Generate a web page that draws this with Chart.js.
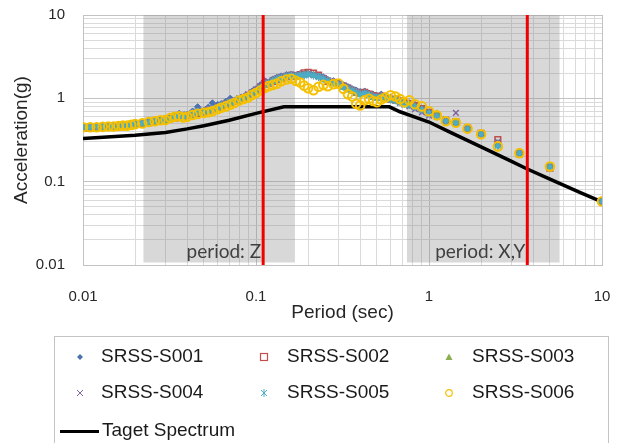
<!DOCTYPE html>
<html>
<head>
<meta charset="utf-8">
<script src="https://cdn.jsdelivr.net/npm/chart.js@4/dist/chart.umd.min.js"></script>
<style>
    html, body { margin: 0; padding: 0; background: #fff; overflow: hidden; }
    #wrap { position: relative; width: 619px; height: 443px; }
    #spectrum { position: absolute; left: 0; top: 0; }
    #legend {
        position: absolute; left: 54px; top: 336px; width: 555px; height: 130px;
        border: 1px solid #c4c4c4; box-sizing: border-box;
        font-family: 'Liberation Sans', Arial, sans-serif; font-size: 19px; color: #1a1a1a;
    }
    .item { position: absolute; white-space: nowrap; }
    .item svg { position: absolute; }
    .item span { position: absolute; line-height: 22px; }
</style>
</head>
<body>
<div id="wrap">
    <canvas id="spectrum" width="619" height="443"></canvas>
    <div id="legend"></div>
</div>
<script>
// --- Periods (sec) shared by the six SRSS spectra ---
const periods = [
    0.010, 0.011, 0.012, 0.013, 0.014, 0.015, 0.016, 0.017, 0.018, 0.019,
    0.020, 0.022, 0.024, 0.026, 0.028, 0.030, 0.032, 0.034, 0.036, 0.038,
    0.040, 0.043, 0.046, 0.050, 0.053, 0.056, 0.060, 0.063, 0.067, 0.071,
    0.075, 0.080, 0.085, 0.090, 0.095, 0.100, 0.106, 0.112, 0.118, 0.125,
    0.132, 0.140, 0.150, 0.160, 0.170, 0.180, 0.190, 0.200, 0.215, 0.230,
    0.245, 0.260, 0.280, 0.300, 0.320, 0.340, 0.360, 0.380, 0.400, 0.425,
    0.450, 0.475, 0.500, 0.530, 0.560, 0.600, 0.640, 0.680, 0.720, 0.770,
    0.830, 0.910, 1.000, 1.110, 1.250, 1.430, 1.670, 2.000, 2.500, 3.330,
    5.000, 10.00
];

// --- SRSS acceleration (g) ---
const srss001 = [
    0.45, 0.45, 0.46, 0.46, 0.46, 0.47, 0.47, 0.48, 0.48, 0.49,
    0.50, 0.52, 0.53, 0.55, 0.56, 0.57, 0.60, 0.62, 0.66, 0.63,
    0.64, 0.70, 0.79, 0.72, 0.78, 0.88, 0.84, 0.86, 0.92, 1.00,
    0.94, 0.98, 1.05, 1.10, 1.22, 1.30, 1.45, 1.62, 1.55, 1.70,
    1.78, 1.85, 1.92, 1.95, 1.90, 1.98, 1.94, 2.00, 1.92, 1.85,
    1.80, 1.68, 1.62, 1.55, 1.45, 1.38, 1.30, 1.25, 1.20, 1.22,
    1.15, 1.12, 1.08, 1.12, 1.05, 1.02, 1.00, 0.95, 0.92, 0.88,
    0.84, 0.76, 0.68, 0.60, 0.52, 0.50, 0.43, 0.37, 0.27, 0.22,
    0.15, 0.058
];
const srss002 = [
    0.44, 0.44, 0.45, 0.45, 0.45, 0.46, 0.46, 0.47, 0.47, 0.48,
    0.49, 0.50, 0.51, 0.53, 0.54, 0.55, 0.57, 0.58, 0.60, 0.61,
    0.62, 0.64, 0.66, 0.69, 0.72, 0.73, 0.78, 0.80, 0.85, 0.88,
    0.92, 0.96, 1.02, 1.08, 1.15, 1.22, 1.35, 1.48, 1.52, 1.60,
    1.68, 1.75, 1.82, 1.88, 1.85, 1.92, 2.02, 2.05, 2.00, 1.90,
    1.72, 1.60, 1.55, 1.48, 1.40, 1.32, 1.25, 1.18, 1.15, 1.18,
    1.12, 1.08, 1.05, 1.06, 1.00, 0.98, 0.96, 0.93, 0.90, 0.86,
    0.82, 0.75, 0.68, 0.62, 0.54, 0.52, 0.44, 0.38, 0.32, 0.215,
    0.145, 0.058
];
const srss003 = [
    0.44, 0.44, 0.44, 0.45, 0.45, 0.45, 0.46, 0.46, 0.47, 0.47,
    0.48, 0.49, 0.51, 0.52, 0.53, 0.54, 0.56, 0.57, 0.59, 0.60,
    0.61, 0.63, 0.65, 0.68, 0.70, 0.72, 0.76, 0.79, 0.83, 0.87,
    0.90, 0.95, 1.00, 1.06, 1.12, 1.20, 1.30, 1.42, 1.50, 1.58,
    1.65, 1.72, 1.80, 1.85, 1.80, 1.86, 1.90, 1.95, 1.88, 1.80,
    1.70, 1.58, 1.50, 1.42, 1.35, 1.28, 1.22, 1.15, 1.10, 1.12,
    1.08, 1.02, 1.00, 1.03, 0.98, 0.95, 0.92, 0.90, 0.86, 0.82,
    0.78, 0.72, 0.66, 0.66, 0.55, 0.52, 0.44, 0.375, 0.29, 0.22,
    0.15, 0.058
];
const srss004 = [
    0.45, 0.45, 0.45, 0.46, 0.46, 0.47, 0.47, 0.48, 0.48, 0.49,
    0.50, 0.51, 0.53, 0.54, 0.56, 0.57, 0.59, 0.61, 0.63, 0.62,
    0.64, 0.67, 0.70, 0.71, 0.74, 0.76, 0.80, 0.84, 0.88, 0.93,
    0.95, 1.00, 1.04, 1.12, 1.18, 1.28, 1.40, 1.55, 1.60, 1.66,
    1.74, 1.82, 1.88, 1.92, 1.88, 1.94, 1.92, 1.98, 1.90, 1.84,
    1.76, 1.64, 1.56, 1.50, 1.42, 1.35, 1.26, 1.20, 1.14, 1.16,
    1.10, 1.06, 1.02, 1.04, 0.99, 0.96, 0.94, 0.88, 0.84, 0.80,
    0.74, 0.68, 0.62, 0.61, 0.56, 0.67, 0.44, 0.38, 0.30, 0.225,
    0.155, 0.058
];
const srss005 = [
    0.45, 0.45, 0.46, 0.46, 0.46, 0.47, 0.47, 0.48, 0.48, 0.49,
    0.50, 0.51, 0.52, 0.54, 0.55, 0.56, 0.58, 0.60, 0.62, 0.61,
    0.62, 0.66, 0.69, 0.69, 0.72, 0.74, 0.78, 0.82, 0.86, 0.90,
    0.92, 0.97, 1.02, 1.07, 1.14, 1.22, 1.34, 1.48, 1.52, 1.62,
    1.70, 1.76, 1.84, 1.88, 1.84, 1.90, 1.88, 1.94, 1.88, 1.80,
    1.72, 1.62, 1.54, 1.46, 1.38, 1.30, 1.24, 1.18, 1.12, 1.15,
    1.10, 1.05, 1.02, 1.05, 1.00, 0.97, 0.95, 0.90, 0.86, 0.83,
    0.79, 0.73, 0.66, 0.60, 0.53, 0.50, 0.43, 0.37, 0.27, 0.22,
    0.15, 0.058
];
const srss006 = [
    0.45, 0.45, 0.45, 0.455, 0.46, 0.46, 0.465, 0.47, 0.47, 0.48,
    0.49, 0.50, 0.52, 0.53, 0.545, 0.55, 0.58, 0.60, 0.61, 0.59,
    0.60, 0.63, 0.65, 0.67, 0.68, 0.70, 0.74, 0.77, 0.80, 0.84,
    0.88, 0.94, 0.98, 1.02, 1.10, 1.16, 1.24, 1.33, 1.40, 1.45,
    1.50, 1.60, 1.68, 1.72, 1.62, 1.55, 1.42, 1.32, 1.25, 1.38,
    1.45, 1.40, 1.48, 1.50, 1.30, 1.12, 1.05, 0.86, 0.82, 0.95,
    0.99, 0.93, 0.90, 0.97, 1.02, 1.09, 1.05, 0.98, 0.90, 0.95,
    0.85, 0.80, 0.70, 0.625, 0.53, 0.51, 0.433, 0.37, 0.265, 0.22,
    0.152, 0.058
];

// --- Target spectrum ---
const targetPeriods = [0.01, 0.02, 0.03, 0.04, 0.05, 0.07, 0.1, 0.145, 0.59, 0.68, 0.8, 1.0, 1.33, 2.0, 3.0, 3.67, 5.0, 7.5, 10];
const targetAccel   = [0.33, 0.36, 0.39, 0.43, 0.47, 0.545, 0.66, 0.79, 0.79, 0.69, 0.61, 0.52, 0.39, 0.262, 0.175, 0.143, 0.107, 0.074, 0.057];

// --- Period bands and their marker lines ---
const bandLabels = ['period: Z', 'period: X,Y'];
const bandStart  = [0.0223, 0.745];
const bandEnd    = [0.168, 5.7];
const bandLine   = [0.11, 3.7];
const bandTop    = 10;
const bandBottom = 0.0107;

// --- Axis ticks (log grid 1..9 per decade) ---
const decades = [0.01, 0.1, 1];
const steps = [1, 2, 3, 4, 5, 6, 7, 8, 9];
const tickText = ['0.01', '0.1', '1', '10'];

const seriesNames = ['SRSS-S001', 'SRSS-S002', 'SRSS-S003', 'SRSS-S004', 'SRSS-S005', 'SRSS-S006'];
const seriesValues = [srss001, srss002, srss003, srss004, srss005, srss006];
const seriesColors = ['#4a72b0', '#c0504d', '#8cae4f', '#8064a2', '#4bacc6', '#f5c000'];

const gridValues = [];
decades.forEach(d => steps.forEach(s => gridValues.push(d * s)));
gridValues.push(10);

const FONT = "'Liberation Sans', Arial, sans-serif";
Chart.defaults.font.family = FONT;
Chart.defaults.color = '#262626';

function toPoints(xs, ys) {
    return xs.map((x, i) => ({ x: x, y: ys[i] }));
}

// marker look for each SRSS series
const markerStyles = [
    { pointStyle: 'rectRot', pointRadius: 3.2, pointBorderWidth: 1, fill: true },
    { pointStyle: 'rect', pointRadius: 4, pointBorderWidth: 1.6, fill: false },
    { pointStyle: 'triangle', pointRadius: 3.6, pointBorderWidth: 1, fill: true },
    { pointStyle: 'crossRot', pointRadius: 4, pointBorderWidth: 1.5, fill: false },
    { pointStyle: 'star', pointRadius: 4, pointBorderWidth: 1.4, fill: false },
    { pointStyle: 'circle', pointRadius: 4.3, pointBorderWidth: 2, fill: false }
];

const datasets = [];

bandStart.forEach((s, i) => {
    datasets.push({
        label: bandLabels[i],
        data: toPoints([s, bandEnd[i]], [bandTop, bandTop]),
        borderWidth: 0,
        pointRadius: 0,
        backgroundColor: 'rgba(140,140,140,0.34)',
        fill: { value: bandBottom },
        order: 20
    });
});

datasets.push({
    label: 'Taget Spectrum',
    data: toPoints(targetPeriods, targetAccel),
    borderColor: '#000',
    borderWidth: 3.5,
    pointRadius: 0,
    tension: 0,
    order: 10
});

seriesNames.forEach((name, i) => {
    const m = markerStyles[i];
    datasets.push({
        label: name,
        data: toPoints(periods, seriesValues[i]),
        showLine: false,
        pointStyle: m.pointStyle,
        pointRadius: m.pointRadius,
        pointBorderWidth: m.pointBorderWidth,
        pointBorderColor: seriesColors[i],
        pointBackgroundColor: m.fill ? seriesColors[i] : 'rgba(0,0,0,0)',
        order: 9 - i
    });
});

bandLine.forEach((p, i) => {
    datasets.push({
        label: 'line' + i,
        data: toPoints([p, p], [0.01, 10]),
        borderColor: '#f20000',
        borderWidth: 3,
        pointRadius: 0,
        order: 1
    });
});

// writes the band captions against each red line
const bandTextPlugin = {
    id: 'bandText',
    afterDatasetsDraw(chart) {
        const { ctx, scales: { x, y } } = chart;
        ctx.save();
        ctx.font = "19px Lato, 'Open Sans', sans-serif";
        ctx.fillStyle = '#404040';
        ctx.textAlign = 'right';
        ctx.textBaseline = 'alphabetic';
        bandLabels.forEach((txt, i) => {
            ctx.fillText(txt, x.getPixelForValue(bandLine[i]) - 2, y.bottom - 7);
        });
        ctx.restore();
    }
};

// tick padding should not leak into the chart area margins
function clearPadding(scale) {
    scale.paddingTop = 0;
    scale.paddingBottom = 0;
    scale.paddingLeft = 0;
    scale.paddingRight = 0;
}

function logAxis(title, extra) {
    return Object.assign({
        type: 'logarithmic',
        min: 0.01,
        max: 10,
        afterBuildTicks: scale => { scale.ticks = gridValues.map(v => ({ value: v })); },
        ticks: {
            autoSkip: false,
            maxRotation: 0,
            font: { size: 15 },
            color: '#262626',
            callback: (v, idx) => (idx % 9 === 0 ? tickText[idx / 9] : '')
        },
        grid: {
            drawTicks: false,
            lineWidth: 1,
            color: c => (c.index % 9 === 0 ? '#c2c2c2' : '#dadada')
        },
        border: { display: true, color: '#c2c2c2' },
        title: { display: true, text: title, font: { size: 19 }, color: '#262626' }
    }, extra);
}

const xAxis = logAxis('Period (sec)', {});
xAxis.ticks.padding = 23;
xAxis.title.padding = { top: 0, bottom: 0 };
xAxis.afterFit = scale => { scale.height = 59.4; clearPadding(scale); };

const yAxis = logAxis('Acceleration(g)', {});
yAxis.ticks.padding = 18;
yAxis.title.padding = { top: 10, bottom: 0 };
yAxis.afterFit = scale => { scale.width = 83; clearPadding(scale); };

new Chart(document.getElementById('spectrum').getContext('2d'), {
    type: 'line',
    data: { datasets: datasets },
    options: {
        responsive: false,
        animation: false,
        layout: { padding: { top: 15, right: 17, bottom: 118.6, left: 0 } },
        plugins: { legend: { display: false }, tooltip: { enabled: false } },
        scales: { x: xAxis, y: yAxis }
    },
    plugins: [bandTextPlugin]
});

// --- Legend box (3 columns, target line on its own row) ---
const legendEl = document.getElementById('legend');
const colText = [46, 232, 417];
const colMark = [25, 209, 394];
const rowMid = [20, 56, 94];

function markerSvg(i, color) {
    let shape = '';
    if (i === 0) shape = `<polygon points="5,2 8,5 5,8 2,5" fill="${color}"/>`;
    if (i === 1) shape = `<rect x="1.5" y="1.5" width="7" height="7" fill="none" stroke="${color}" stroke-width="1.2"/>`;
    if (i === 2) shape = `<polygon points="5,1.5 8.5,8 1.5,8" fill="${color}"/>`;
    if (i === 3) shape = `<path d="M2,2 L8,8 M8,2 L2,8" stroke="${color}" stroke-width="1"/>`;
    if (i === 4) shape = `<path d="M2,2 L8,8 M8,2 L2,8 M5,1 L5,9" stroke="${color}" stroke-width="1"/>`;
    if (i === 5) shape = `<circle cx="5" cy="5" r="3.3" fill="none" stroke="${color}" stroke-width="1.2"/>`;
    return `<svg width="10" height="10" viewBox="0 0 10 10">${shape}</svg>`;
}

seriesNames.forEach((name, i) => {
    const col = i % 3, row = Math.floor(i / 3);
    const item = document.createElement('div');
    item.className = 'item';
    item.style.left = '0px';
    item.style.top = '0px';
    item.innerHTML = markerSvg(i, seriesColors[i]) +
        `<span style="left:${colText[col]}px;top:${rowMid[row] - 12}px">${name}</span>`;
    item.querySelector('svg').style.left = (colMark[col] - 5) + 'px';
    item.querySelector('svg').style.top = (rowMid[row] - 5) + 'px';
    legendEl.appendChild(item);
});

const targetItem = document.createElement('div');
targetItem.className = 'item';
targetItem.innerHTML =
    `<div style="position:absolute;left:5px;top:${rowMid[2] - 1.5}px;width:39px;height:3px;background:#000"></div>` +
    `<span style="left:47px;top:${rowMid[2] - 12}px">Taget Spectrum</span>`;
legendEl.appendChild(targetItem);
</script>
</body>
</html>
